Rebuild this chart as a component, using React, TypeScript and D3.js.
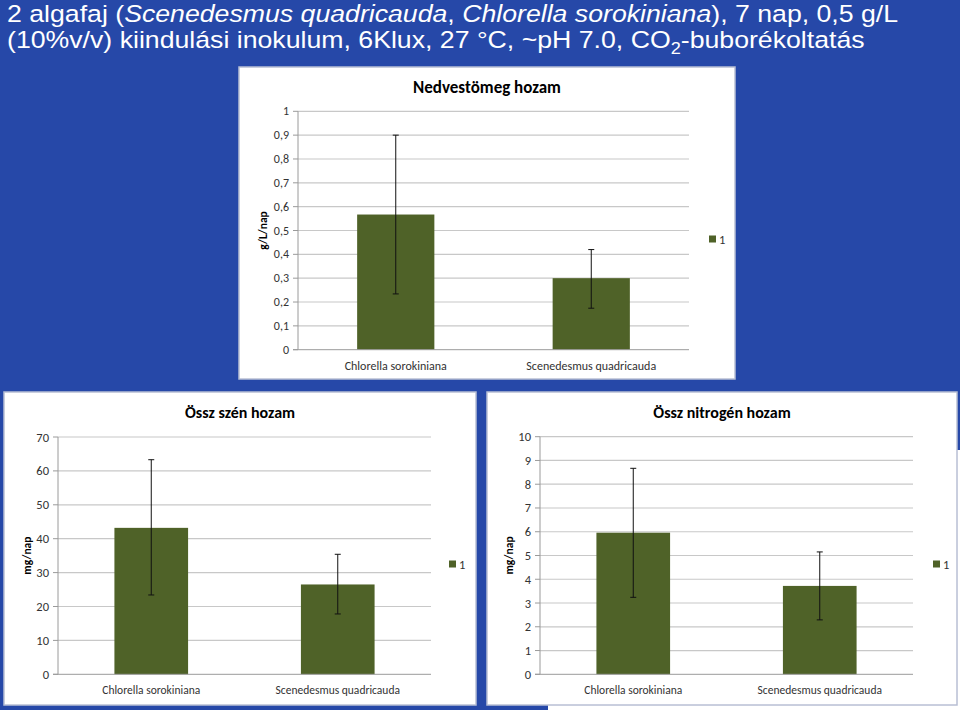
import React from "react";
import * as d3 from "d3";

const categories = ["Chlorella sorokiniana", "Scenedesmus quadricauda"];

const wetValues = [0.567, 0.3];
const wetErrHigh = [0.9, 0.42];
const wetErrLow = [0.234, 0.174];
const wetTicks = [0, 0.1, 0.2, 0.3, 0.4, 0.5, 0.6, 0.7, 0.8, 0.9, 1];

const carbonValues = [43.2, 26.5];
const carbonErrHigh = [63.3, 35.4];
const carbonErrLow = [23.4, 17.8];
const carbonTicks = [0, 10, 20, 30, 40, 50, 60, 70];

const nitrogenValues = [5.96, 3.72];
const nitrogenErrHigh = [8.67, 5.15];
const nitrogenErrLow = [3.24, 2.29];
const nitrogenTicks = [0, 1, 2, 3, 4, 5, 6, 7, 8, 9, 10];

const legendLabel = "1";

const BLUE = "#2648a8";
const BAR = "#4f6228";
const FONT = "Carlito, Lato, 'Open Sans', sans-serif";

type PanelProps = {
  box: { x: number; y: number; w: number; h: number };
  plot: { left: number; right: number; top: number; bottom: number };
  title: string;
  yTitle: string;
  ticks: number[];
  values: number[];
  errHigh: number[];
  errLow: number[];
  fmt: (v: number) => string;
  tickSize: number;
  catSize: number;
  titleSize: number;
  titleY: number;
  titleX: number;
  yTitleX: number;
  legend: { x: number; y: number };
};

function Panel(p: PanelProps) {
  const y = d3
    .scaleLinear()
    .domain([0, d3.max(p.ticks) as number])
    .range([p.plot.bottom, p.plot.top]);
  const x = d3
    .scaleBand<string>()
    .domain(categories)
    .range([p.plot.left, p.plot.right])
    .padding(0);
  const bw = x.bandwidth() * 0.395;
  return (
    <g>
      <rect
        x={p.box.x}
        y={p.box.y}
        width={p.box.w}
        height={p.box.h}
        fill="#ffffff"
        stroke="#b8bfd4"
        strokeWidth={1.5}
      />
      <text
        x={p.titleX}
        y={p.titleY}
        textAnchor="middle"
        dominantBaseline="central"
        fontFamily={FONT}
        fontWeight="bold"
        fontSize={p.titleSize}
        fill="#000"
      >
        {p.title}
      </text>
      {p.ticks.map((t) => (
        <g key={t}>
          {t > 0 && (
            <line
              x1={p.plot.left}
              x2={p.plot.right}
              y1={y(t)}
              y2={y(t)}
              stroke="#c8c8c8"
              strokeWidth={1.2}
            />
          )}
          <line
            x1={p.plot.left - 5}
            x2={p.plot.left}
            y1={y(t)}
            y2={y(t)}
            stroke="#9a9a9a"
          />
          <text
            x={p.plot.left - 9}
            y={y(t)}
            textAnchor="end"
            dominantBaseline="central"
            fontFamily={FONT}
            fontSize={p.tickSize}
            fill="#333"
          >
            {p.fmt(t)}
          </text>
        </g>
      ))}
      {categories.map((c, i) => {
        const cx = (x(c) as number) + x.bandwidth() / 2;
        return (
          <g key={c}>
            <rect
              x={cx - bw / 2}
              y={y(p.values[i])}
              width={bw}
              height={y(0) - y(p.values[i])}
              fill={BAR}
            />
            <line x1={cx} x2={cx} y1={y(p.errHigh[i])} y2={y(p.errLow[i])} stroke="#111" strokeWidth={1} />
            <line x1={cx - 3} x2={cx + 3} y1={y(p.errHigh[i])} y2={y(p.errHigh[i])} stroke="#111" strokeWidth={1} />
            <line x1={cx - 3} x2={cx + 3} y1={y(p.errLow[i])} y2={y(p.errLow[i])} stroke="#111" strokeWidth={1} />
            <text
              x={cx}
              y={p.plot.bottom + 16}
              textAnchor="middle"
              dominantBaseline="central"
              fontFamily={FONT}
              fontSize={p.catSize}
              fill="#333"
            >
              {c}
            </text>
          </g>
        );
      })}
      <line x1={p.plot.left} x2={p.plot.left} y1={p.plot.top} y2={p.plot.bottom} stroke="#9a9a9a" />
      <line x1={p.plot.left - 5} x2={p.plot.right} y1={p.plot.bottom} y2={p.plot.bottom} stroke="#9a9a9a" />
      <text
        transform={`translate(${p.yTitleX},${(p.plot.top + p.plot.bottom) / 2}) rotate(-90)`}
        textAnchor="middle"
        dominantBaseline="central"
        fontFamily={FONT}
        fontWeight="bold"
        fontSize={11.5}
        fill="#000"
      >
        {p.yTitle}
      </text>
      <rect x={p.legend.x} y={p.legend.y - 3.5} width={7} height={7} fill={BAR} />
      <text
        x={p.legend.x + 10}
        y={p.legend.y}
        dominantBaseline="central"
        fontFamily={FONT}
        fontSize={12.5}
        fill="#333"
      >
        {legendLabel}
      </text>
    </g>
  );
}

const fmtComma = (v: number) => String(Math.round(v * 10) / 10).replace(".", ",");
const fmtInt = (v: number) => String(v);

export default function App() {
  return (
    <svg
      width={960}
      height={710}
      style={{ position: "absolute", left: 0, top: 0, display: "block" }}
    >
      <rect x={0} y={0} width={960} height={710} fill="#ffffff" />
      <path d="M0,0 H960 V450 H957 V705 H548 V710 H0 Z" fill={BLUE} />
      <g fontFamily="'Liberation Sans', Arial, sans-serif" fontSize={23.5} fill="#ffffff">
        <text transform="translate(7,22) scale(1.136,1)" x={0} y={0}>
          2 algafaj (<tspan fontStyle="italic">Scenedesmus quadricauda</tspan>,{" "}
          <tspan fontStyle="italic">Chlorella sorokiniana</tspan>), 7 nap, 0,5 g/L
        </text>
        <text transform="translate(7,48) scale(1.136,1)" x={0} y={0}>
          (10%v/v) kiindulási inokulum, 6Klux, 27 °C, ~pH 7.0, CO
          <tspan fontSize={16} dy={6}>2</tspan>
          <tspan dy={-6}>-buborékoltatás</tspan>
        </text>
      </g>
      <Panel
        box={{ x: 239, y: 67, w: 496, h: 312 }}
        plot={{ left: 298, right: 689, top: 111.3, bottom: 349.7 }}
        title="Nedvestömeg hozam"
        titleX={487}
        titleY={87}
        titleSize={17}
        yTitle="g/L/nap"
        yTitleX={263}
        ticks={wetTicks}
        values={wetValues}
        errHigh={wetErrHigh}
        errLow={wetErrLow}
        fmt={fmtComma}
        tickSize={12}
        catSize={12}
        legend={{ x: 709, y: 239 }}
      />
      <Panel
        box={{ x: 4, y: 392, w: 472, h: 313 }}
        plot={{ left: 58, right: 431, top: 437, bottom: 674.3 }}
        title="Össz szén hozam"
        titleX={240}
        titleY={412}
        titleSize={16}
        yTitle="mg/nap"
        yTitleX={27}
        ticks={carbonTicks}
        values={carbonValues}
        errHigh={carbonErrHigh}
        errLow={carbonErrLow}
        fmt={fmtInt}
        tickSize={12.5}
        catSize={11.5}
        legend={{ x: 449, y: 564 }}
      />
      <Panel
        box={{ x: 487, y: 392, w: 470, h: 313 }}
        plot={{ left: 540, right: 913, top: 436.7, bottom: 674.3 }}
        title="Össz nitrogén hozam"
        titleX={722}
        titleY={412}
        titleSize={16}
        yTitle="mg/nap"
        yTitleX={509}
        ticks={nitrogenTicks}
        values={nitrogenValues}
        errHigh={nitrogenErrHigh}
        errLow={nitrogenErrLow}
        fmt={fmtInt}
        tickSize={12.5}
        catSize={11.5}
        legend={{ x: 933, y: 564 }}
      />
    </svg>
  );
}
